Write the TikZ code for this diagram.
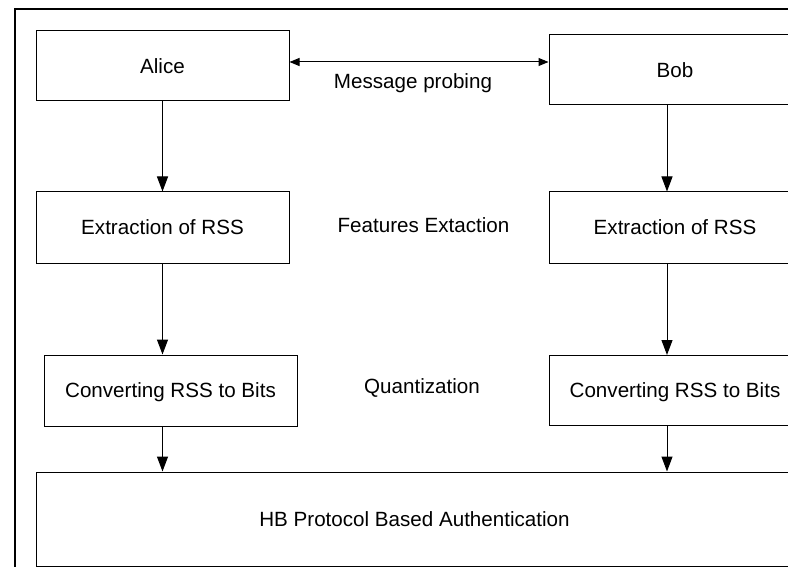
\documentclass[tikz,border=0pt]{standalone}
\usepackage{fontspec}
\setmainfont{Liberation Sans}
\usetikzlibrary{arrows.meta}
\tikzset{
  box/.style={draw, line width=0.5pt, inner sep=0pt, text height=0.72em, text depth=0pt,
    font=\fontsize{10.3}{12}\selectfont},
  lbl/.style={inner sep=0pt, anchor=base, font=\fontsize{10.3}{12}\selectfont},
  flow/.style={line width=0.5pt, -{Triangle[length=7.5pt,width=5.5pt]}},
  both/.style={line width=0.5pt, {Triangle[length=5pt,width=4pt]}-{Triangle[length=5pt,width=4pt]}}
}
\begin{document}
\begin{tikzpicture}[x=0.5pt,y=-0.5pt]
\useasboundingbox (0,0) rectangle (788,567);
\clip (0,0) rectangle (788,567);
\fill[white] (0,0) rectangle (788,567);
\draw[line width=1pt] (14.5,9) rectangle (900,700);
\node[box, minimum width=126.5pt, minimum height=35pt] (Alice) at (162.5,66) {Alice};
\node[box, minimum width=126pt, minimum height=35pt] (Bob) at (675,70) {Bob};
\node[box, minimum width=126.5pt, minimum height=35.5pt] (ExL) at (162.5,227.5) {Extraction of RSS};
\node[box, minimum width=126pt, minimum height=35.5pt] (ExR) at (675,227.5) {Extraction of RSS};
\node[box, minimum width=126.5pt, minimum height=35.5pt] (CvL) at (170.5,390.5) {Converting RSS to Bits};
\node[box, minimum width=126pt, minimum height=35pt] (CvR) at (675,390.5) {Converting RSS to Bits};
\node[box, minimum width=378.5pt, minimum height=47pt] (HB) at (414.5,519) {HB Protocol Based Authentication};
\node[lbl] (mp) at (413,89) {Message probing};
\node[lbl] (fe) at (423.5,233) {Features Extaction};
\node[lbl] (qz) at (422,393) {Quantization};
\draw[both] ([yshift=2pt]Alice.east) -- ([yshift=2pt]Alice.east -| Bob.west);
\draw[flow] (Alice.south) -- (ExL.north);
\draw[flow] (ExL.south) -- (CvL.north -| ExL.south);
\draw[flow] (CvL.south -| ExL.south) -- (HB.north -| ExL.south);
\draw[flow] ([xshift=-4pt]Bob.south) -- ([xshift=-4pt]ExR.north);
\draw[flow] ([xshift=-4pt]ExR.south) -- ([xshift=-4pt]CvR.north);
\draw[flow] ([xshift=-4pt]CvR.south) -- ([xshift=-4pt]CvR.south |- HB.north);
\end{tikzpicture}
\end{document}
